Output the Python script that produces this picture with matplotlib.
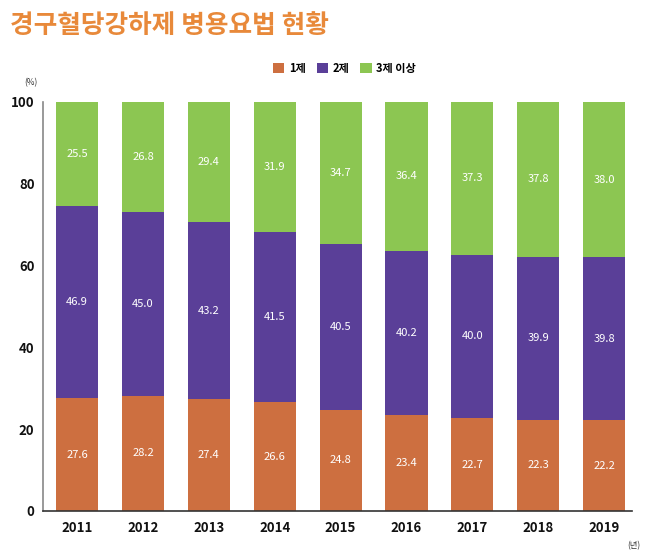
import numpy as np
import matplotlib.pyplot as plt

plt.rcParams['font.family'] = ['Noto Sans CJK KR', 'DejaVu Sans']

# 연도별 병용요법 비율 (%)
years = ['2011', '2012', '2013', '2014', '2015', '2016', '2017', '2018', '2019']
one_drug = [27.6, 28.2, 27.4, 26.6, 24.8, 23.4, 22.7, 22.3, 22.2]
two_drug = [46.9, 45.0, 43.2, 41.5, 40.5, 40.2, 40.0, 39.9, 39.8]
three_plus = [25.5, 26.8, 29.4, 31.9, 34.7, 36.4, 37.3, 37.8, 38.0]
series_names = ['1제', '2제', '3제 이상']
colors = ['#CD6F40', '#5A3F98', '#8CC652']

fig = plt.figure(figsize=(6.5, 5.6), dpi=100)
ax = fig.add_axes([0.066, 0.0875, 0.906, 0.7305])

x = np.arange(len(years))
width = 0.64
bottom = np.zeros(len(years))
for vals, name, c in zip([one_drug, two_drug, three_plus], series_names, colors):
    vals = np.array(vals)
    ax.bar(x, vals, width, bottom=bottom, color=c, label=name)
    # 막대 안의 값 표시
    for xi, b, v in zip(x, bottom, vals):
        ax.text(xi, b + v / 2, f'{v:.1f}', ha='center', va='center',
                color='white', fontsize=8, fontweight='medium')
    bottom = bottom + vals

ax.set_xlim(-0.52, 8.42)
ax.set_ylim(0, 100)
ax.set_yticks([0, 20, 40, 60, 80, 100])
ax.set_xticks(x)
ax.set_xticklabels(years)
ax.tick_params(axis='both', length=0, labelsize=9.5, colors='#111111')
ax.tick_params(axis='x', pad=7)
ax.tick_params(axis='y', pad=6)
for lbl in ax.get_xticklabels() + ax.get_yticklabels():
    lbl.set_fontweight('bold')

for s in ['top', 'right']:
    ax.spines[s].set_visible(False)
ax.spines['left'].set_color('#888888')
ax.spines['left'].set_linewidth(1.2)
ax.spines['bottom'].set_color('#333333')
ax.spines['bottom'].set_linewidth(1.2)

# 제목, 단위, 범례
fig.text(0.015, 0.955, '경구혈당강하제 병용요법 현황', fontsize=18.5, fontweight='bold',
         color='#E8893A', ha='left', va='center')
fig.text(0.047, 0.853, '(%)', fontsize=6, ha='center', va='center', color='#333333')
fig.text(0.975, 0.026, '(년)', fontsize=6, ha='center', va='center', color='#333333')
fig.legend(loc='center', bbox_to_anchor=(0.53, 0.878), ncol=3, frameon=False,
           handlelength=1.0, handleheight=1.0, handletextpad=0.4,
           columnspacing=1.0, prop={'weight': 'bold', 'size': 8})

fig.savefig('out.png', dpi=100)
